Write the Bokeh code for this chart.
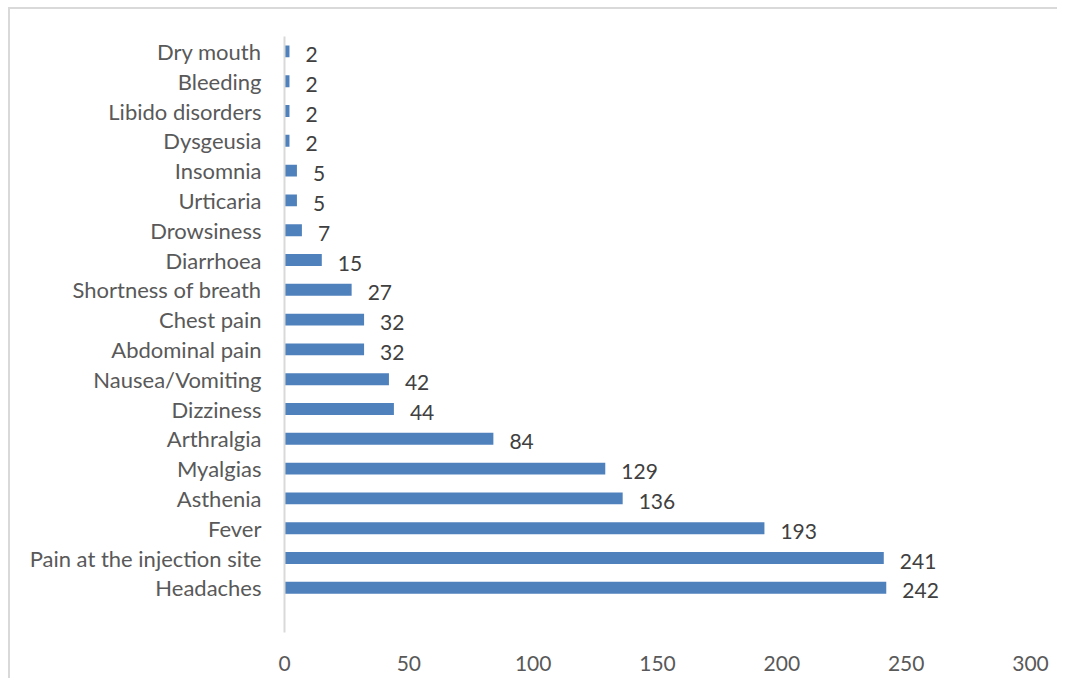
from bokeh.plotting import figure
from bokeh.models import FactorRange, Range1d, FixedTicker, ColumnDataSource
from bokeh.core.properties import value
from bokeh.embed import file_html
from bokeh.resources import INLINE

categories = ["Dry mouth", "Bleeding", "Libido disorders", "Dysgeusia", "Insomnia",
              "Urticaria", "Drowsiness", "Diarrhoea", "Shortness of breath", "Chest pain",
              "Abdominal pain", "Nausea/Vomiting", "Dizziness", "Arthralgia", "Myalgias",
              "Asthenia", "Fever", "Pain at the injection site", "Headaches"]
counts = [2, 2, 2, 2, 5, 5, 7, 15, 27, 32, 32, 42, 44, 84, 129, 136, 193, 241, 242]
x_ticks = [0, 50, 100, 150, 200, 250, 300]

factors = [" "] + categories[::-1]

src = ColumnDataSource(dict(cat=categories, val=counts, lab=[str(v) for v in counts]))

OX, OY, SLACK = 10, 9, 8
W = 1067 - OX - SLACK
H = 688 - OY - SLACK

p = figure(width=W, height=H, output_backend="svg", toolbar_location=None,
           y_range=FactorRange(factors=factors, range_padding=0),
           x_range=Range1d(0, 300),
           min_border_left=284 - OX, min_border_right=OX + W - 1030,
           min_border_top=36 - OY, min_border_bottom=OY + H - 632)
p.margin = (OY, 0, 0, OX)
p.styles = {"box-shadow": "-2px -2px 0px 0px #D9D9D9"}

p.hbar(y="cat", right="val", left=0, height=0.4, source=src,
       fill_color="#4F81BD", line_color=None)

p.text(x="val", y="cat", text="lab", source=src, x_offset=16, y_offset=3,
       text_baseline="middle", text_align="left",
       text_font=value("Lato"), text_font_size="21px", text_color="#404040")

p.xgrid.visible = False
p.ygrid.visible = False
p.outline_line_color = None
p.background_fill_color = "white"
p.border_fill_color = "white"

xa = p.xaxis[0]
xa.ticker = FixedTicker(ticks=x_ticks)
xa.axis_line_color = None
xa.major_tick_line_color = None
xa.minor_tick_line_color = None
xa.major_label_standoff = 17
xa.major_label_text_font = "Lato"
xa.major_label_text_font_size = "21px"
xa.major_label_text_color = "#595959"

ya = p.yaxis[0]
ya.axis_line_color = "#D9D9D9"
ya.axis_line_width = 2
ya.major_tick_line_color = None
ya.minor_tick_line_color = None
ya.major_label_standoff = 17
ya.major_label_text_font = "Lato"
ya.major_label_text_font_size = "22px"
ya.major_label_text_color = "#595959"

open("out.html", "w").write(file_html(p, INLINE))
